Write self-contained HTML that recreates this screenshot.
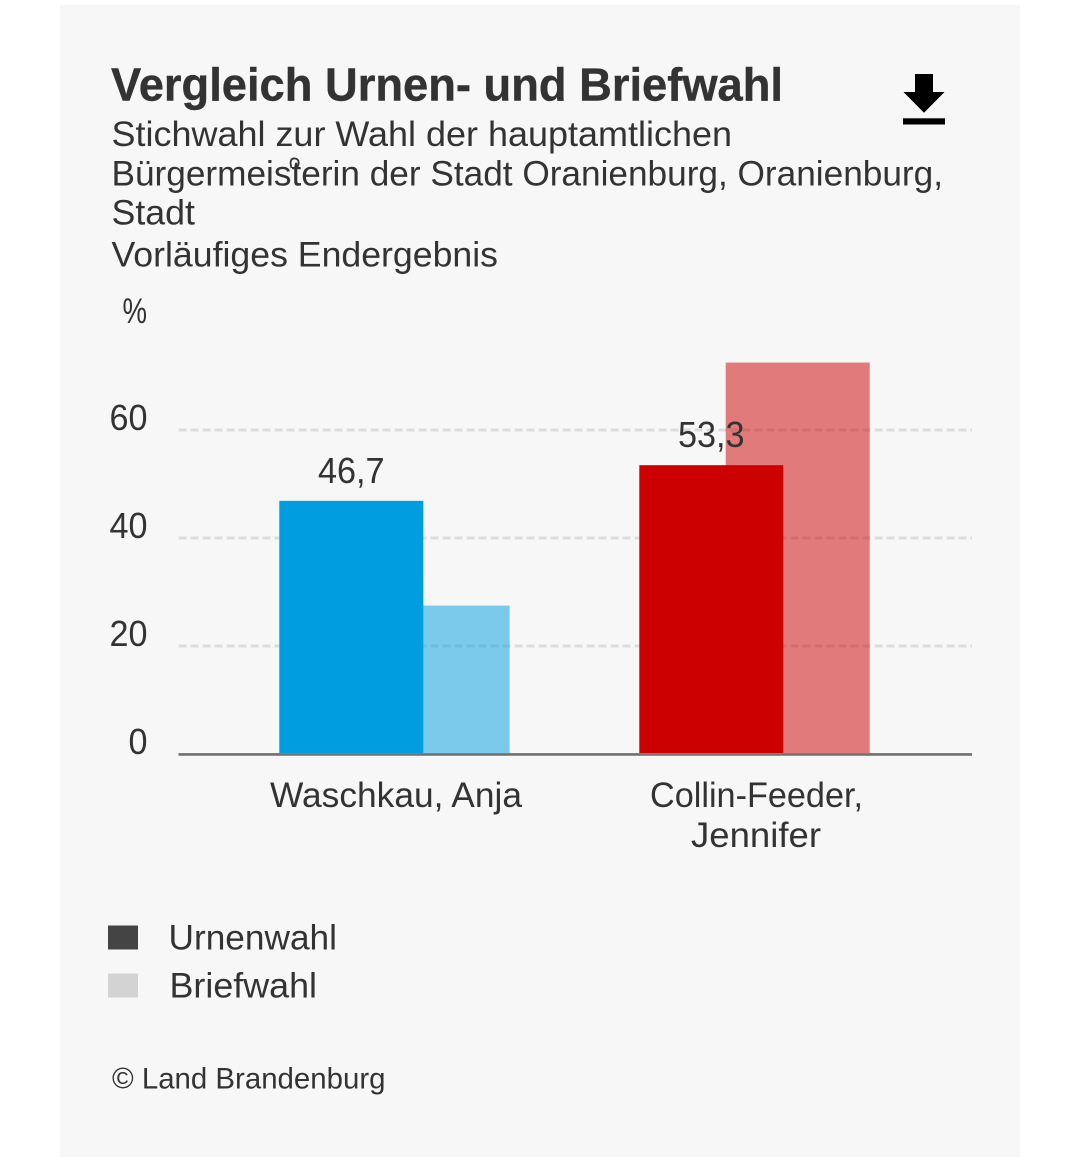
<!DOCTYPE html>
<html lang="de">
<head>
<meta charset="utf-8">
<title>Vergleich Urnen- und Briefwahl</title>
<style>
  html, body { margin: 0; padding: 0; background: #ffffff; }
  body { width: 1080px; height: 1157px; position: relative; overflow: hidden; }
  svg { display: block; position: absolute; left: 0; top: 0; }
  text { font-family: "Liberation Sans", sans-serif; fill: #333333; }
</style>
</head>
<body>
<svg id="chart" width="1080" height="1157" viewBox="0 0 1080 1157" xmlns="http://www.w3.org/2000/svg">
  <rect x="60" y="5" width="960" height="1152" fill="#f7f7f7"/>

  <text x="111" y="100.5" font-size="46.5" font-weight="700" stroke="#333333" stroke-width="0.4" textLength="672" lengthAdjust="spacingAndGlyphs">Vergleich Urnen- und Briefwahl</text>
  <text x="111.5" y="146" font-size="35.5" textLength="620.5" lengthAdjust="spacingAndGlyphs">Stichwahl zur Wahl der hauptamtlichen</text>
  <text x="111.5" y="185.5" font-size="35.5" textLength="831.5" lengthAdjust="spacingAndGlyphs">Bürgermeisterin der Stadt Oranienburg, Oranienburg,</text>
  <path d="M291.5 168 C289 160 292 158 295 158.5 C299 159 299.5 163 297.5 167" fill="none" stroke="#333333" stroke-width="1.8"/>
  <text x="111.5" y="224.5" font-size="35.5" textLength="83.5" lengthAdjust="spacingAndGlyphs">Stadt</text>
  <text x="111.5" y="266.5" font-size="35.5" textLength="386.5" lengthAdjust="spacingAndGlyphs">Vorläufiges Endergebnis</text>

  <g style="cursor:pointer">
    <rect x="898" y="68" width="52" height="62" fill="transparent"/>
    <path d="M915 74 H933 V92 H944.5 L924 112.7 L903.5 92 H915 Z" fill="#000000"/>
    <rect x="903" y="118.3" width="42" height="6.2" fill="#000000"/>
  </g>

  <text x="147" y="323" font-size="35" text-anchor="end" textLength="24.5" lengthAdjust="spacingAndGlyphs">%</text>

  <g id="grid"></g>
  <g id="bars"></g>
  <g id="ticks"></g>
  <g id="values"></g>
  <g>
    <text x="270" y="807" font-size="35.5" textLength="252" lengthAdjust="spacingAndGlyphs">Waschkau, Anja</text>
    <text x="650" y="807" font-size="35.5" textLength="213" lengthAdjust="spacingAndGlyphs">Collin-Feeder,</text>
    <text x="691" y="847" font-size="35.5" textLength="130" lengthAdjust="spacingAndGlyphs">Jennifer</text>
  </g>
  <line x1="178.5" x2="972" y1="754.4" y2="754.4" stroke="#707070" stroke-width="2.6"/>

  <g>
    <rect x="108" y="925.5" width="30" height="24" fill="#444444"/>
    <text x="168.5" y="949.5" font-size="35.5" textLength="168.5" lengthAdjust="spacingAndGlyphs">Urnenwahl</text>
    <rect x="108" y="973.5" width="30" height="24" fill="#d3d3d3"/>
    <text x="169.5" y="997.5" font-size="35.5" textLength="147.5" lengthAdjust="spacingAndGlyphs">Briefwahl</text>
  </g>

  <text x="112" y="1088.5" font-size="29.5" textLength="273.5" lengthAdjust="spacingAndGlyphs">© Land Brandenburg</text>
</svg>

<script>
const urnenwahl = [46.7, 53.3];
const briefwahl = [27.3, 72.3];
const valueLabels = ["46,7", "53,3"];
const yTicks = [0, 20, 40, 60];
const yGridTicks = [20, 40, 60];
const urnColors = ["#009ee0", "#cc0000"];
const briefColors = ["#009ee0", "#cc0000"];

const NS = "http://www.w3.org/2000/svg";
const Y_ZERO = 753;
const PX_PER_UNIT = 5.4;
const GROUP_START = 394.5;
const GROUP_STEP = 360;
const BAR_W = 144;
const BAR_OFFSET = 43.2;
const PLOT_LEFT = 178.5;
const PLOT_RIGHT = 972;
const LABEL_CONDENSE = 0.95;

function yScale(v) { return Y_ZERO - v * PX_PER_UNIT; }
function xScale(i) { return GROUP_START + i * GROUP_STEP; }
function make(tag, attrs) {
  const el = document.createElementNS(NS, tag);
  for (const k in attrs) el.setAttribute(k, attrs[k]);
  return el;
}
function condense(el) {
  const w = el.getComputedTextLength();
  el.setAttribute("textLength", (w * LABEL_CONDENSE).toFixed(1));
  el.setAttribute("lengthAdjust", "spacingAndGlyphs");
}

const gridG = document.getElementById("grid");
yGridTicks.forEach(function (t) {
  const line = make("line", { x1: PLOT_LEFT, x2: PLOT_RIGHT, y1: yScale(t) + 1, y2: yScale(t) + 1, stroke: "#dcdcdc", "stroke-width": 3, "stroke-dasharray": "8 4" });
  
  
  gridG.appendChild(line);
});

const barsG = document.getElementById("bars");
briefwahl.forEach(function (v, i) {
  const bar = make("rect", { x: xScale(i) + BAR_OFFSET - BAR_W / 2, y: yScale(v), width: BAR_W, height: v * PX_PER_UNIT, fill: briefColors[i], "fill-opacity": 0.5 });
  
  
  barsG.appendChild(bar);
});
urnenwahl.forEach(function (v, i) {
  const bar = make("rect", { x: xScale(i) - BAR_OFFSET - BAR_W / 2, y: yScale(v), width: BAR_W, height: v * PX_PER_UNIT, fill: urnColors[i] });
  
  
  barsG.appendChild(bar);
});

const ticksG = document.getElementById("ticks");
yTicks.forEach(function (t) {
  const label = make("text", { x: 147.5, y: yScale(t) + 1, "font-size": 36, "text-anchor": "end" });
  
  
  label.textContent = String(t);
  ticksG.appendChild(label);
  condense(label);
});

const valuesG = document.getElementById("values");
urnenwahl.forEach(function (v, i) {
  const label = make("text", { x: xScale(i) - BAR_OFFSET, y: yScale(v) - 18, "font-size": 36, "text-anchor": "middle" });
  
  
  label.textContent = valueLabels[i];
  valuesG.appendChild(label);
  condense(label);
});
</script>
</body>
</html>
